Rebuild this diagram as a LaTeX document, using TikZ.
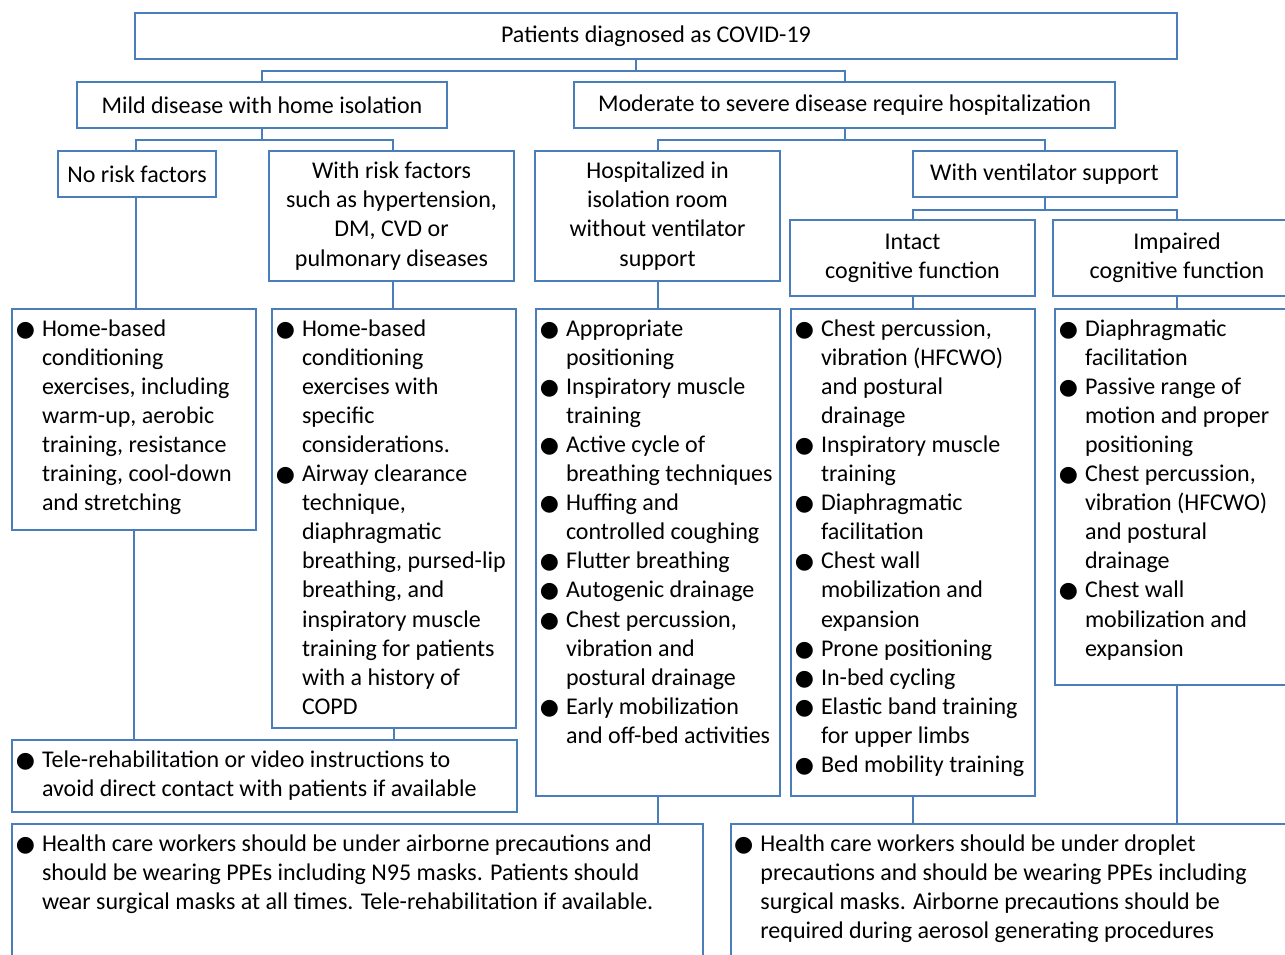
\documentclass[tikz,border=0pt]{standalone}
\usepackage{fontspec}
\setmainfont{Carlito}
\newfontfamily\symfont{DejaVu Sans}
\definecolor{boxblue}{RGB}{74,126,187}
\newcommand\bdot{\leavevmode\llap{{\symfont\fontsize{11}{11}\selectfont ●}\hspace{3.5pt}}}

\begin{document}
\begin{tikzpicture}[x=0.5pt,y=-0.5pt,
    box/.style={draw=boxblue, line width=1pt, inner sep=0pt},
    head/.style={box, align=center, font=\fontsize{12}{14.55}\selectfont},
    txt/.style={inner sep=0pt, text width=140pt, align=flush left, anchor=base west, font=\fontsize{12}{14.55}\selectfont},
    link/.style={draw=boxblue, line width=1pt}]
    \useasboundingbox (0,0) rectangle (1285,954);
    \clip (0,0) rectangle (1285,954);

    \node[head, minimum width=521pt, minimum height=23pt] (top) at (656,36) {Patients diagnosed as COVID-19};
    \node[head, minimum width=185pt, minimum height=23pt] (mild) at (262,105) {Mild disease with home isolation};
    \node[head, minimum width=270.5pt, minimum height=23pt] (mod) at (844.5,105) {Moderate to severe disease require hospitalization};
    \node[head, minimum width=79pt, minimum height=23pt] (norisk) at (137,174) {No risk factors};
    \node[head, minimum width=122.5pt, minimum height=65pt] (withrisk) at (391.5,216) {With risk factors\\such as hypertension,\\DM, CVD or\\pulmonary diseases};
    \node[head, minimum width=122.5pt, minimum height=65pt] (hosp) at (657.5,216) {Hospitalized in\\isolation room\\without ventilator\\support};
    \node[head, minimum width=132pt, minimum height=23pt] (vent) at (1044.5,174) {With ventilator support};
    \node[head, minimum width=122.5pt, minimum height=38pt] (intact) at (912.5,258) {Intact\\cognitive function};
    \node[head, minimum width=124pt, minimum height=38pt] (impaired) at (1177,258) {Impaired\\cognitive function};

    \node[box, anchor=north west, minimum width=122pt, minimum height=110.5pt] (boxA) at (11,308) {};
    \node[box, anchor=north west, minimum width=122pt, minimum height=209.5pt] (boxB) at (271,308) {};
    \node[box, anchor=north west, minimum width=122pt, minimum height=243.5pt] (boxC) at (535,308) {};
    \node[box, anchor=north west, minimum width=122pt, minimum height=243.5pt] (boxD) at (790,308) {};
    \node[box, anchor=north west, minimum width=130pt, minimum height=188pt] (boxE) at (1054,308) {};
    \node[box, anchor=north west, minimum width=252.5pt, minimum height=36pt] (tele) at (11,739) {};
    \node[box, anchor=north west, minimum width=345.5pt, minimum height=100pt] (bl) at (11,823) {};
    \node[box, anchor=north west, minimum width=300pt, minimum height=100pt] (br) at (730,823) {};

    \node[txt] (tA) at ([xshift=15.3pt,yshift=-14pt]boxA.north west) {\bdot Home-based\\conditioning\\exercises, including\\warm-up, aerobic\\training, resistance\\training, cool-down\\and stretching};
    \node[txt] (tB) at ([xshift=15.3pt,yshift=-14pt]boxB.north west) {\bdot Home-based\\conditioning\\exercises with\\specific\\considerations.\\\bdot Airway clearance\\technique,\\diaphragmatic\\breathing, pursed-lip\\breathing, and\\inspiratory muscle\\training for patients\\with a history of\\COPD};
    \node[txt] (tC) at ([xshift=15.3pt,yshift=-14pt]boxC.north west) {\bdot Appropriate\\positioning\\\bdot Inspiratory muscle\\training\\\bdot Active cycle of\\breathing techniques\\\bdot Huffing and\\controlled coughing\\\bdot Flutter breathing\\\bdot Autogenic drainage\\\bdot Chest percussion,\\vibration and\\postural drainage\\\bdot Early mobilization\\and off-bed activities};
    \node[txt] (tD) at ([xshift=15.3pt,yshift=-14pt]boxD.north west) {\bdot Chest percussion,\\vibration (HFCWO)\\and postural\\drainage\\\bdot Inspiratory muscle\\training\\\bdot Diaphragmatic\\facilitation\\\bdot Chest wall\\mobilization and\\expansion\\\bdot Prone positioning\\\bdot In-bed cycling\\\bdot Elastic band training\\for upper limbs\\\bdot Bed mobility training};
    \node[txt] (tE) at ([xshift=15.3pt,yshift=-14pt]boxE.north west) {\bdot Diaphragmatic\\facilitation\\\bdot Passive range of\\motion and proper\\positioning\\\bdot Chest percussion,\\vibration (HFCWO)\\and postural\\drainage\\\bdot Chest wall\\mobilization and\\expansion};
    \node[txt, text width=260pt] (tT) at ([xshift=15.3pt,yshift=-14pt]tele.north west) {\bdot Tele-rehabilitation or video instructions to\\avoid direct contact with patients if available};
    \node[txt, text width=340pt] (tL) at ([xshift=15.3pt,yshift=-14pt]bl.north west) {\bdot Health care workers should be under airborne precautions and\\should be wearing PPEs including N95 masks. Patients should\\wear surgical masks at all times. Tele-rehabilitation if available.};
    \node[txt, text width=280pt] (tR) at ([xshift=15pt,yshift=-14pt]br.north west) {\bdot Health care workers should be under droplet\\precautions and should be wearing PPEs including\\surgical masks. Airborne precautions should be\\required during aerosol generating procedures};

    \draw[link] ([xshift=-10pt]top.south) -- ++(0,11) coordinate (j1) -| (mild.north);
    \draw[link] (j1) -| (mod.north);
    \draw[link] (mild.south) -- ++(0,11) coordinate (j2) -| ([xshift=-0.5pt]norisk.north);
    \draw[link] (j2) -| ([xshift=0.75pt]withrisk.north);
    \draw[link] (mod.south) -- ++(0,11) coordinate (j3) -| (hosp.north);
    \draw[link] (j3) -| (vent.north);
    \draw[link] (vent.south) -- ++(0,12) coordinate (j4) -| (intact.north);
    \draw[link] (j4) -| (impaired.north);
    \draw[link] ([xshift=-0.5pt]norisk.south) -- ([xshift=-0.5pt]norisk.south |- boxA.north);
    \draw[link] ([xshift=0.75pt]withrisk.south) -- ([xshift=0.75pt]withrisk.south |- boxB.north);
    \draw[link] (hosp.south) -- (hosp.south |- boxC.north);
    \draw[link] (intact.south) -- (intact.south |- boxD.north);
    \draw[link] (impaired.south) -- (impaired.south |- boxE.north);
    \draw[link] (boxA.south) -- (boxA.south |- tele.north);
    \draw[link] (boxB.south) -- (boxB.south |- tele.north);
    \draw[link] (boxC.south) -- (boxC.south |- bl.north);
    \draw[link] (boxD.south) -- (boxD.south |- br.north);
    \draw[link] (impaired.south |- boxE.south) -- (impaired.south |- br.north);
\end{tikzpicture}
\end{document}
